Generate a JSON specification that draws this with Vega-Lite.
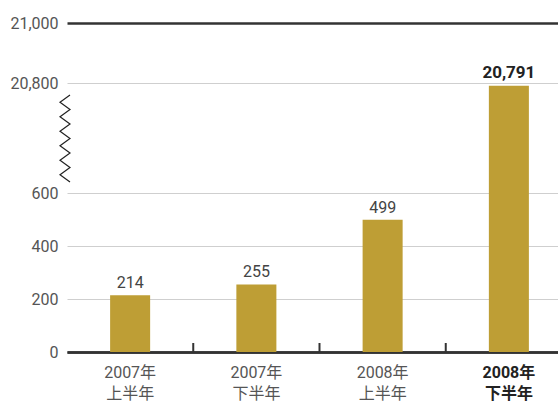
{
  "$schema": "https://vega.github.io/schema/vega-lite/v6.json",
  "width": 491,
  "height": 329,
  "autosize": {"type": "none"},
  "padding": {"left": 67, "top": 23, "right": 0, "bottom": 55},
  "background": "white",
  "config": {"view": {"stroke": null}, "font": "Roboto, 'Noto Sans CJK SC'"},
  "datasets": {
    "bars": [
      {"period": "2007年 上半年", "value": 214},
      {"period": "2007年 下半年", "value": 255},
      {"period": "2008年 上半年", "value": 499},
      {"period": "2008年 下半年", "value": 20791}
    ],
    "zigzag": [
      {"i": 0, "zx": 3, "zy": 20760},
      {"i": 1, "zx": -7, "zy": 20736},
      {"i": 2, "zx": 3, "zy": 20712},
      {"i": 3, "zx": -7, "zy": 19758},
      {"i": 4, "zx": 3, "zy": 17936},
      {"i": 5, "zx": -7, "zy": 16115},
      {"i": 6, "zx": 3, "zy": 14293},
      {"i": 7, "zx": -7, "zy": 12472},
      {"i": 8, "zx": 3, "zy": 10650},
      {"i": 9, "zx": -7, "zy": 8828},
      {"i": 10, "zx": 3, "zy": 7007},
      {"i": 11, "zx": -7, "zy": 5185},
      {"i": 12, "zx": 3, "zy": 3364}
    ]
  },
  "layer": [
    {
      "data": {"name": "bars"},
      "encoding": {
        "x": {
          "field": "period",
          "type": "nominal",
          "sort": null,
          "scale": {
            "domain": ["2007年 上半年", "2007年 下半年", "2008年 上半年", "2008年 下半年"],
            "range": [0, 505],
            "paddingInner": 0,
            "paddingOuter": 0
          },
          "axis": {
            "title": null,
            "labelAngle": 0,
            "ticks": false,
            "domain": true,
            "domainColor": "#333",
            "domainWidth": 2.5,
            "labelExpr": "split(datum.label, ' ')",
            "labelFontSize": 16,
            "labelLineHeight": 21,
            "labelPadding": 12,
            "labelBaseline": "top",
            "labelColor": {"condition": {"test": "datum.value == '2008年 下半年'", "value": "#222"}, "value": "#555"},
            "labelFontWeight": {"condition": {"test": "datum.value == '2008年 下半年'", "value": "bold"}, "value": "normal"}
          }
        }
      },
      "layer": [
        {
          "mark": {"type": "bar", "color": "#BE9E35", "width": {"band": 0.317}},
          "encoding": {
            "y": {
              "field": "value",
              "type": "quantitative",
              "title": null,
              "scale": {"type": "linear", "domain": [0, 600, 20700, 21000], "range": [329, 170, 90, 0], "nice": false, "zero": false},
              "axis": {
                "values": [0, 200, 400, 600, 20800, 21000],
                "labelExpr": "format(datum.value, ',')",
                "domain": false,
                "ticks": false,
                "labelPadding": 9,
                "labelFontSize": 16,
                "labelColor": "#555",
                "grid": true,
                "gridColor": {"condition": {"test": "datum.value == 21000 || datum.value == 0", "value": "#333"}, "value": "#cfcfcf"},
                "gridWidth": {"condition": {"test": "datum.value == 21000 || datum.value == 0", "value": 2.5}, "value": 1}
              }
            }
          }
        },
        {
          "transform": [{"filter": "datum.period != '2008年 下半年'"}],
          "mark": {"type": "text", "baseline": "alphabetic", "dy": -7, "fontSize": 16, "color": "#444"},
          "encoding": {
            "y": {"field": "value", "type": "quantitative", "title": null},
            "text": {"field": "value", "type": "quantitative", "format": ","}
          }
        },
        {
          "transform": [{"filter": "datum.period == '2008年 下半年'"}],
          "mark": {"type": "text", "baseline": "alphabetic", "dy": -8, "fontSize": 17, "fontWeight": "bold", "color": "#222"},
          "encoding": {
            "y": {"field": "value", "type": "quantitative", "title": null},
            "text": {"field": "value", "type": "quantitative", "format": ","}
          }
        },
        {
          "transform": [{"filter": "datum.period != '2007年 上半年'"}],
          "mark": {"type": "rule", "color": "#333", "strokeWidth": 2},
          "encoding": {
            "x": {"field": "period", "type": "nominal", "bandPosition": 0},
            "y": {"datum": 0, "type": "quantitative", "title": null},
            "y2": {"datum": 34}
          }
        }
      ]
    },
    {
      "data": {"name": "zigzag"},
      "mark": {"type": "line", "color": "#222", "strokeWidth": 1.2, "clip": false},
      "encoding": {
        "x": {"field": "zx", "type": "quantitative", "scale": {"domain": [0, 491], "nice": false, "zero": false}, "axis": null},
        "y": {"field": "zy", "type": "quantitative", "title": null},
        "order": {"field": "i", "type": "quantitative"}
      }
    }
  ],
  "resolve": {"scale": {"x": "independent"}, "axis": {"x": "independent"}}
}
